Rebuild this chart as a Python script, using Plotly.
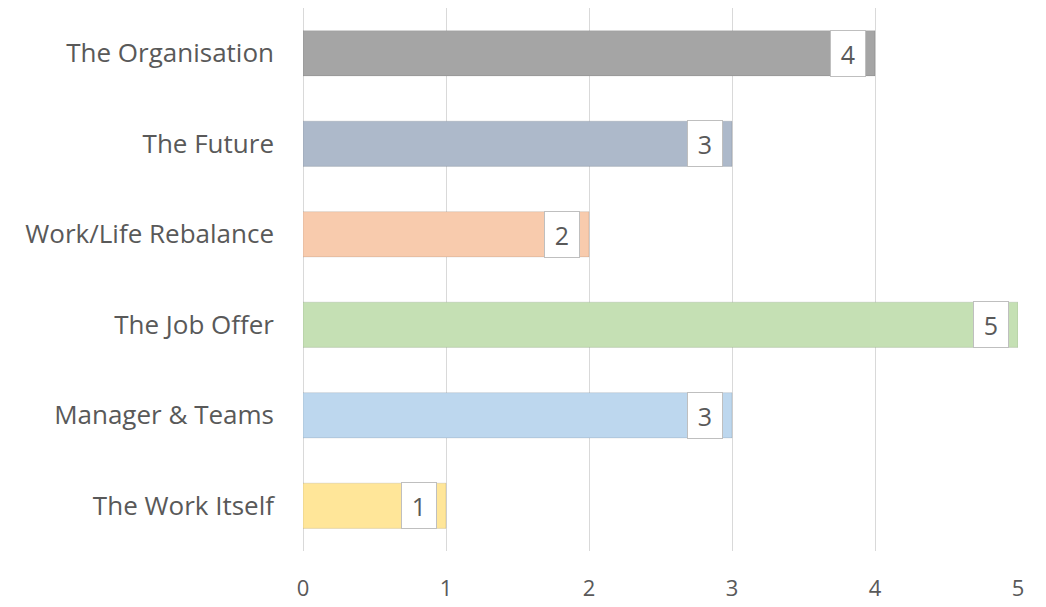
import plotly.graph_objects as go

categories = ["The Work Itself", "Manager & Teams", "The Job Offer",
              "Work/Life Rebalance", "The Future", "The Organisation"]
values = [1, 3, 5, 2, 3, 4]
colors = ["#FFE699", "#BDD7EE", "#C5E0B4", "#F8CBAD", "#ADB9CA", "#A5A5A5"]
x_ticks = [0, 1, 2, 3, 4, 5]

fig = go.Figure()
fig.add_trace(go.Bar(
    y=categories, x=values, orientation="h",
    marker=dict(color=colors, line=dict(color="rgba(0,0,0,0.10)", width=1)),
    width=0.5, showlegend=False, hoverinfo="x+y",
))

for c, v in zip(categories, values):
    fig.add_annotation(
        x=v, y=c, xref="x", yref="y", text=str(v), showarrow=False,
        xanchor="right", xshift=-9, width=32, height=43, align="center",
        font=dict(family="Open Sans", size=25, color="#595959"),
        bgcolor="white", bordercolor="#BFBFBF", borderwidth=1, borderpad=1,
    )

fig.update_layout(
    width=1046, height=607,
    margin=dict(l=303, r=28, t=8, b=56),
    paper_bgcolor="white", plot_bgcolor="white",
    font=dict(family="Open Sans", size=26, color="#595959"),
    bargap=0.5,
    xaxis=dict(range=[0, 5.0], tickvals=x_ticks, showgrid=True,
               gridcolor="#D9D9D9", gridwidth=1, zeroline=True,
               zerolinecolor="#D9D9D9", zerolinewidth=1,
               ticks="", ticklabelstandoff=22, automargin=False,
               tickfont=dict(size=22, color="#595959")),
    yaxis=dict(categoryorder="array", categoryarray=categories,
               showgrid=False, ticks="", ticklabelstandoff=28, automargin=False,
               tickfont=dict(size=26, color="#595959")),
)

fig.write_html("out.html")
